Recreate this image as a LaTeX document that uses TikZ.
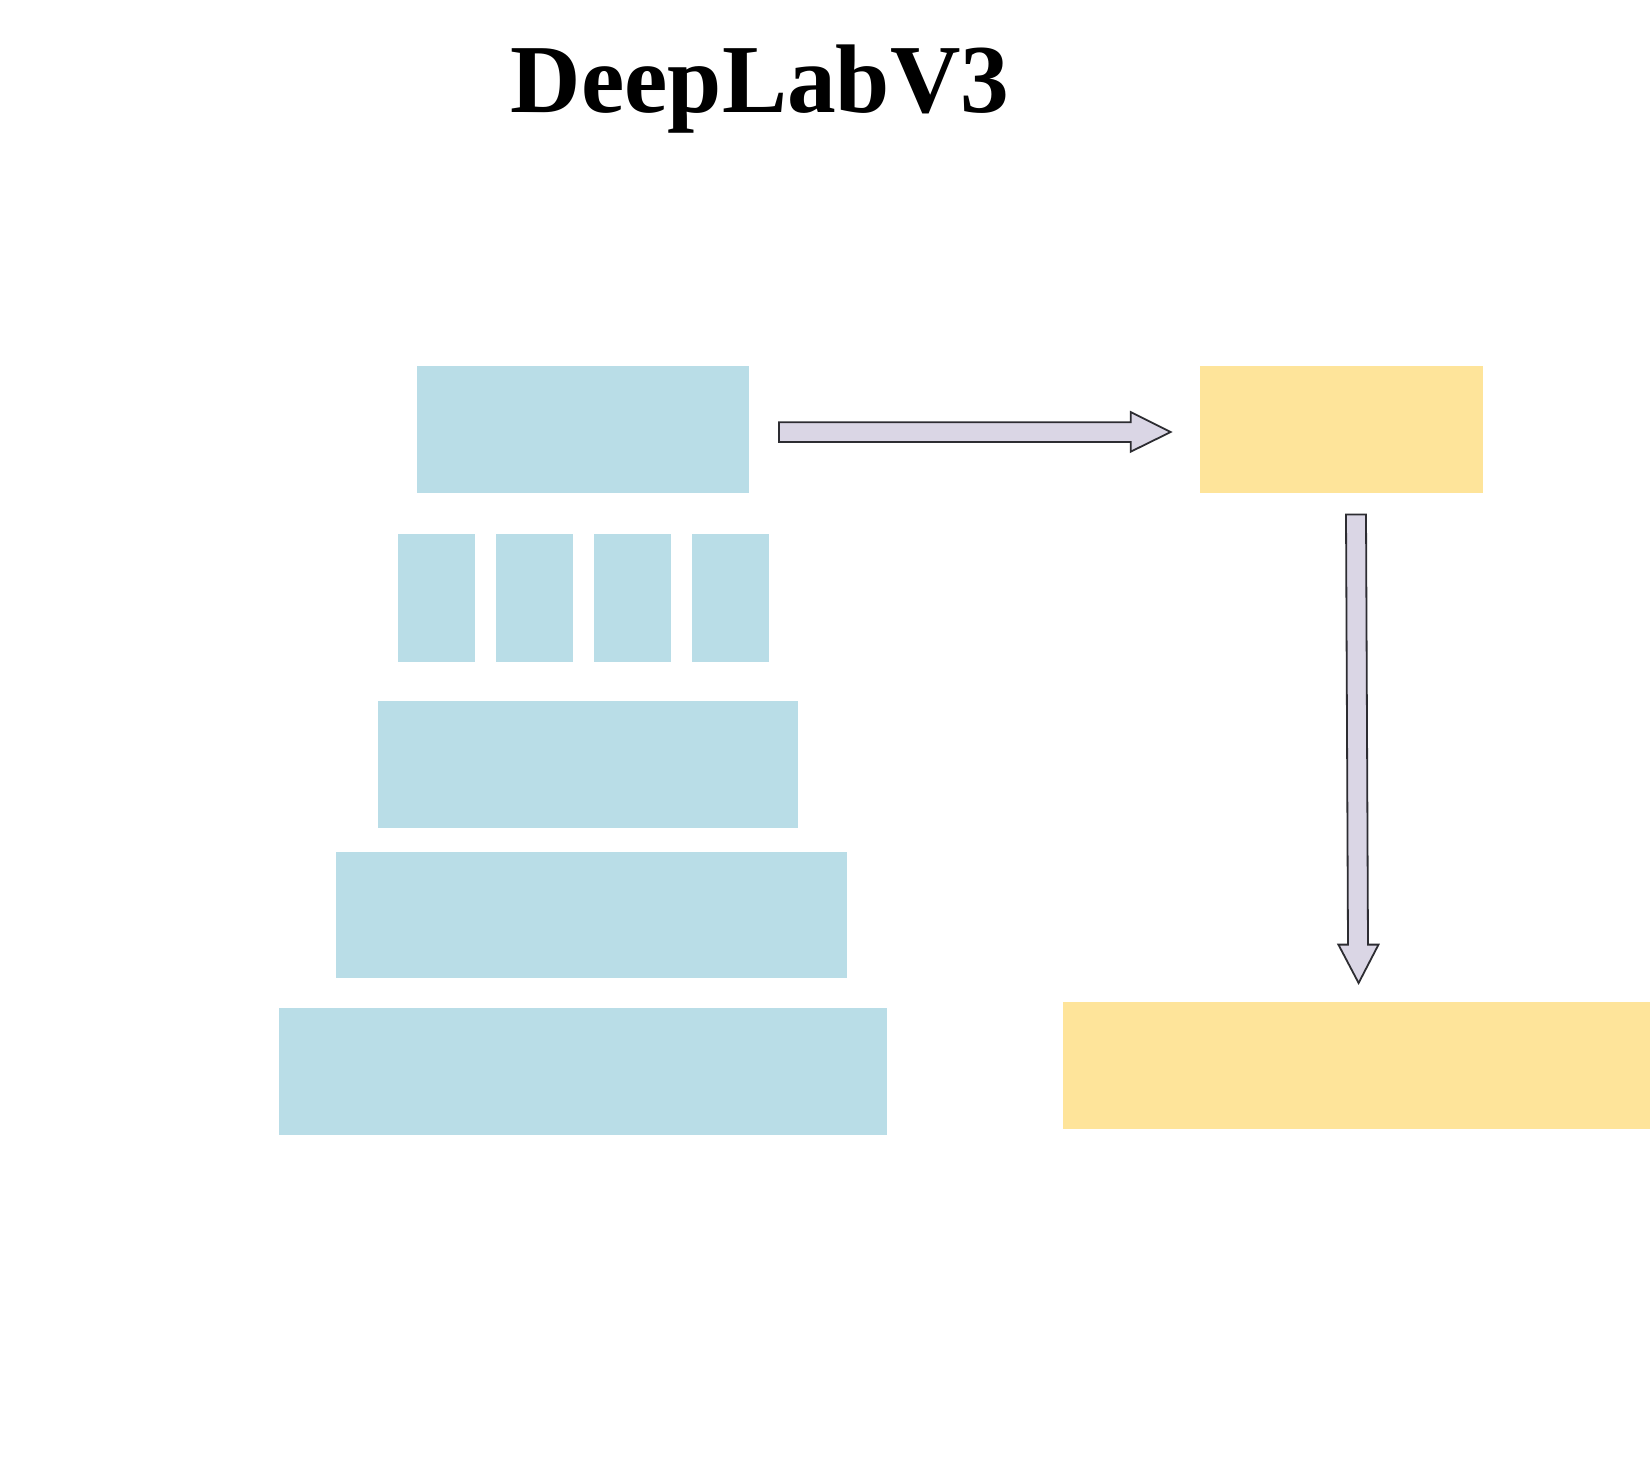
\documentclass[tikz,border=0pt]{standalone}
\usepackage{fontspec}
\setmainfont{Liberation Serif}
\definecolor{boxblue}{RGB}{185,221,231}
\definecolor{boxyellow}{RGB}{254,228,154}
\definecolor{arrowfill}{RGB}{218,214,229}
\definecolor{arrowline}{RGB}{45,45,50}
\tikzset{
  blk/.style={fill=boxblue, draw=none, inner sep=0pt, outer sep=0pt, anchor=north west},
  ylw/.style={fill=boxyellow, draw=none, inner sep=0pt, outer sep=0pt, anchor=north west},
  blockarrow/.style={fill=arrowfill, draw=arrowline, line width=1.8pt, line join=miter},
  titletext/.style={font=\fontsize{97.5}{100}\selectfont\bfseries, inner sep=0pt, anchor=base}
}
\begin{document}
\begin{tikzpicture}[x=1pt,y=-1pt]
\useasboundingbox (0,0) rectangle (1650,1472);
\fill[white] (0,0) rectangle (1650,1472);
\node[titletext] (title) at (760,113) {DeepLabV3};
% pyramid
\node[blk, minimum width=332pt, minimum height=127pt] (b1) at (417.3,366) {};
\node[blk, minimum width=76.5pt, minimum height=128pt] (s1) at (398,534) {};
\node[blk, minimum width=77pt, minimum height=128pt] (s2) at (495.5,534) {};
\node[blk, minimum width=77pt, minimum height=128pt] (s3) at (593.7,534) {};
\node[blk, minimum width=77.5pt, minimum height=128pt] (s4) at (691.6,534) {};
\node[blk, minimum width=419.6pt, minimum height=127pt] (bA) at (378,700.7) {};
\node[blk, minimum width=511.6pt, minimum height=126.6pt] (bB) at (335.8,851.7) {};
\node[blk, minimum width=607.3pt, minimum height=127pt] (bC) at (279.4,1008) {};
% yellow boxes
\node[ylw, minimum width=283.6pt, minimum height=127pt] (y1) at (1199.5,366) {};
\node[ylw, minimum width=587.4pt, minimum height=126.5pt] (y2) at (1062.6,1002) {};
% block arrows
\draw[blockarrow] (779,422.3) -- (1130.7,422.3) -- (1130.7,412) -- (1170.7,432)
  -- (1130.7,451.7) -- (1130.7,442) -- (779,442) -- cycle;
\draw[blockarrow] (1346,514.5) -- (1366,514.5) -- (1368,944.6) -- (1378.5,944.6)
  -- (1358.6,983) -- (1338.4,944.6) -- (1348,944.6) -- cycle;
\end{tikzpicture}
\end{document}
